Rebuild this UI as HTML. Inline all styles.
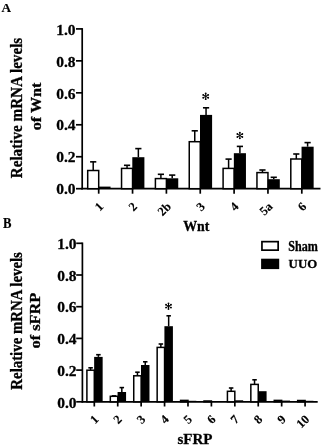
<!DOCTYPE html>
<html><head><meta charset="utf-8"><style>
html,body{margin:0;padding:0;background:#fff;}
body{width:323px;height:448px;overflow:hidden;}
svg{display:block;will-change:transform;}
text{font-family:"Liberation Serif", serif;font-weight:bold;fill:#000;stroke:#000;stroke-width:0.3px;}
</style></head><body>
<svg width="323" height="448" viewBox="0 0 323 448">
<text x="1.5" y="12" font-size="13.2" style="stroke-width:0.15px">A</text>
<text x="0" y="0" font-size="14.4" transform="translate(3.1 227.7) scale(0.88 1)" style="stroke-width:0.2px">B</text>
<line x1="82.2" y1="28.099999999999998" x2="82.2" y2="189.5" stroke="#000" stroke-width="1.7"/>
<line x1="76.0" y1="188.70" x2="82.2" y2="188.70" stroke="#000" stroke-width="1.7"/>
<text x="75.6" y="194.40" text-anchor="end" font-size="15.5">0.0</text>
<line x1="76.0" y1="156.74" x2="82.2" y2="156.74" stroke="#000" stroke-width="1.7"/>
<text x="75.6" y="162.44" text-anchor="end" font-size="15.5">0.2</text>
<line x1="76.0" y1="124.78" x2="82.2" y2="124.78" stroke="#000" stroke-width="1.7"/>
<text x="75.6" y="130.48" text-anchor="end" font-size="15.5">0.4</text>
<line x1="76.0" y1="92.82" x2="82.2" y2="92.82" stroke="#000" stroke-width="1.7"/>
<text x="75.6" y="98.52" text-anchor="end" font-size="15.5">0.6</text>
<line x1="76.0" y1="60.86" x2="82.2" y2="60.86" stroke="#000" stroke-width="1.7"/>
<text x="75.6" y="66.56" text-anchor="end" font-size="15.5">0.8</text>
<line x1="76.0" y1="28.90" x2="82.2" y2="28.90" stroke="#000" stroke-width="1.7"/>
<text x="75.6" y="34.60" text-anchor="end" font-size="15.5">1.0</text>
<line x1="81.4" y1="188.7" x2="320.5" y2="188.7" stroke="#000" stroke-width="1.7"/>
<line x1="93.20" y1="161.85" x2="93.20" y2="170.50" stroke="#000" stroke-width="1.5"/>
<line x1="90.10" y1="161.85" x2="96.30" y2="161.85" stroke="#000" stroke-width="1.6"/>
<rect x="87.70" y="170.50" width="11.00" height="18.20" fill="#fff" stroke="#000" stroke-width="1.5"/>
<rect x="98.45" y="186.60" width="12.10" height="2.10" fill="#000"/>
<line x1="98.70" y1="188.7" x2="98.70" y2="193.7" stroke="#000" stroke-width="1.7"/>
<text x="104.10" y="207.35" text-anchor="end" font-size="12.4" style="stroke-width:0.15px" transform="rotate(-45 104.10 207.35)">1</text>
<line x1="127.05" y1="165.30" x2="127.05" y2="168.40" stroke="#000" stroke-width="1.5"/>
<line x1="123.95" y1="165.30" x2="130.15" y2="165.30" stroke="#000" stroke-width="1.6"/>
<rect x="121.55" y="168.40" width="11.00" height="20.30" fill="#fff" stroke="#000" stroke-width="1.5"/>
<line x1="138.35" y1="148.60" x2="138.35" y2="157.20" stroke="#000" stroke-width="1.5"/>
<line x1="135.25" y1="148.60" x2="141.45" y2="148.60" stroke="#000" stroke-width="1.6"/>
<rect x="132.30" y="157.20" width="12.10" height="31.50" fill="#000"/>
<line x1="132.55" y1="188.7" x2="132.55" y2="193.7" stroke="#000" stroke-width="1.7"/>
<text x="137.95" y="207.35" text-anchor="end" font-size="12.4" style="stroke-width:0.15px" transform="rotate(-45 137.95 207.35)">2</text>
<line x1="160.90" y1="174.30" x2="160.90" y2="178.60" stroke="#000" stroke-width="1.5"/>
<line x1="157.80" y1="174.30" x2="164.00" y2="174.30" stroke="#000" stroke-width="1.6"/>
<rect x="155.40" y="178.60" width="11.00" height="10.10" fill="#fff" stroke="#000" stroke-width="1.5"/>
<line x1="172.20" y1="175.10" x2="172.20" y2="178.30" stroke="#000" stroke-width="1.5"/>
<line x1="169.10" y1="175.10" x2="175.30" y2="175.10" stroke="#000" stroke-width="1.6"/>
<rect x="166.15" y="178.30" width="12.10" height="10.40" fill="#000"/>
<line x1="166.40" y1="188.7" x2="166.40" y2="193.7" stroke="#000" stroke-width="1.7"/>
<text x="171.80" y="207.35" text-anchor="end" font-size="12.4" style="stroke-width:0.15px" transform="rotate(-45 171.80 207.35)">2b</text>
<line x1="194.75" y1="130.80" x2="194.75" y2="141.70" stroke="#000" stroke-width="1.5"/>
<line x1="191.65" y1="130.80" x2="197.85" y2="130.80" stroke="#000" stroke-width="1.6"/>
<rect x="189.25" y="141.70" width="11.00" height="47.00" fill="#fff" stroke="#000" stroke-width="1.5"/>
<line x1="206.05" y1="107.80" x2="206.05" y2="114.90" stroke="#000" stroke-width="1.5"/>
<line x1="202.95" y1="107.80" x2="209.15" y2="107.80" stroke="#000" stroke-width="1.6"/>
<rect x="200.00" y="114.90" width="12.10" height="73.80" fill="#000"/>
<line x1="200.25" y1="188.7" x2="200.25" y2="193.7" stroke="#000" stroke-width="1.7"/>
<text x="205.65" y="207.35" text-anchor="end" font-size="12.4" style="stroke-width:0.15px" transform="rotate(-45 205.65 207.35)">3</text>
<line x1="228.60" y1="159.10" x2="228.60" y2="168.40" stroke="#000" stroke-width="1.5"/>
<line x1="225.50" y1="159.10" x2="231.70" y2="159.10" stroke="#000" stroke-width="1.6"/>
<rect x="223.10" y="168.40" width="11.00" height="20.30" fill="#fff" stroke="#000" stroke-width="1.5"/>
<line x1="239.90" y1="146.40" x2="239.90" y2="153.20" stroke="#000" stroke-width="1.5"/>
<line x1="236.80" y1="146.40" x2="243.00" y2="146.40" stroke="#000" stroke-width="1.6"/>
<rect x="233.85" y="153.20" width="12.10" height="35.50" fill="#000"/>
<line x1="234.10" y1="188.7" x2="234.10" y2="193.7" stroke="#000" stroke-width="1.7"/>
<text x="239.50" y="207.35" text-anchor="end" font-size="12.4" style="stroke-width:0.15px" transform="rotate(-45 239.50 207.35)">4</text>
<line x1="262.45" y1="170.00" x2="262.45" y2="172.60" stroke="#000" stroke-width="1.5"/>
<line x1="259.35" y1="170.00" x2="265.55" y2="170.00" stroke="#000" stroke-width="1.6"/>
<rect x="256.95" y="172.60" width="11.00" height="16.10" fill="#fff" stroke="#000" stroke-width="1.5"/>
<line x1="273.75" y1="177.30" x2="273.75" y2="179.20" stroke="#000" stroke-width="1.5"/>
<line x1="270.65" y1="177.30" x2="276.85" y2="177.30" stroke="#000" stroke-width="1.6"/>
<rect x="267.70" y="179.20" width="12.10" height="9.50" fill="#000"/>
<line x1="267.95" y1="188.7" x2="267.95" y2="193.7" stroke="#000" stroke-width="1.7"/>
<text x="273.35" y="207.35" text-anchor="end" font-size="12.4" style="stroke-width:0.15px" transform="rotate(-45 273.35 207.35)">5a</text>
<line x1="296.30" y1="154.00" x2="296.30" y2="159.00" stroke="#000" stroke-width="1.5"/>
<line x1="293.20" y1="154.00" x2="299.40" y2="154.00" stroke="#000" stroke-width="1.6"/>
<rect x="290.80" y="159.00" width="11.00" height="29.70" fill="#fff" stroke="#000" stroke-width="1.5"/>
<line x1="307.60" y1="142.60" x2="307.60" y2="146.70" stroke="#000" stroke-width="1.5"/>
<line x1="304.50" y1="142.60" x2="310.70" y2="142.60" stroke="#000" stroke-width="1.6"/>
<rect x="301.55" y="146.70" width="12.10" height="42.00" fill="#000"/>
<line x1="301.80" y1="188.7" x2="301.80" y2="193.7" stroke="#000" stroke-width="1.7"/>
<text x="307.20" y="207.35" text-anchor="end" font-size="12.4" style="stroke-width:0.15px" transform="rotate(-45 307.20 207.35)">6</text>
<line x1="82.4" y1="242.5" x2="82.4" y2="402.6" stroke="#000" stroke-width="1.7"/>
<line x1="76.2" y1="401.80" x2="82.4" y2="401.80" stroke="#000" stroke-width="1.7"/>
<text x="76.6" y="407.50" text-anchor="end" font-size="15.5">0.0</text>
<line x1="76.2" y1="370.10" x2="82.4" y2="370.10" stroke="#000" stroke-width="1.7"/>
<text x="76.6" y="375.80" text-anchor="end" font-size="15.5">0.2</text>
<line x1="76.2" y1="338.40" x2="82.4" y2="338.40" stroke="#000" stroke-width="1.7"/>
<text x="76.6" y="344.10" text-anchor="end" font-size="15.5">0.4</text>
<line x1="76.2" y1="306.70" x2="82.4" y2="306.70" stroke="#000" stroke-width="1.7"/>
<text x="76.6" y="312.40" text-anchor="end" font-size="15.5">0.6</text>
<line x1="76.2" y1="275.00" x2="82.4" y2="275.00" stroke="#000" stroke-width="1.7"/>
<text x="76.6" y="280.70" text-anchor="end" font-size="15.5">0.8</text>
<line x1="76.2" y1="243.30" x2="82.4" y2="243.30" stroke="#000" stroke-width="1.7"/>
<text x="76.6" y="249.00" text-anchor="end" font-size="15.5">1.0</text>
<line x1="81.60000000000001" y1="401.8" x2="317.7" y2="401.8" stroke="#000" stroke-width="1.7"/>
<line x1="90.60" y1="367.80" x2="90.60" y2="370.20" stroke="#000" stroke-width="1.5"/>
<line x1="88.35" y1="367.80" x2="92.85" y2="367.80" stroke="#000" stroke-width="1.6"/>
<rect x="86.90" y="370.20" width="7.40" height="31.60" fill="#fff" stroke="#000" stroke-width="1.5"/>
<line x1="98.40" y1="354.70" x2="98.40" y2="356.90" stroke="#000" stroke-width="1.5"/>
<line x1="96.15" y1="354.70" x2="100.65" y2="354.70" stroke="#000" stroke-width="1.6"/>
<rect x="94.15" y="356.90" width="8.50" height="44.90" fill="#000"/>
<line x1="94.30" y1="401.8" x2="94.30" y2="406.5" stroke="#000" stroke-width="1.7"/>
<text x="99.30" y="420.05" text-anchor="end" font-size="12.4" style="stroke-width:0.15px" transform="rotate(-45 99.30 420.05)">1</text>
<line x1="114.02" y1="395.90" x2="114.02" y2="396.30" stroke="#000" stroke-width="1.5"/>
<line x1="111.77" y1="395.90" x2="116.27" y2="395.90" stroke="#000" stroke-width="1.6"/>
<rect x="110.32" y="396.30" width="7.40" height="5.50" fill="#fff" stroke="#000" stroke-width="1.5"/>
<line x1="121.82" y1="387.60" x2="121.82" y2="392.00" stroke="#000" stroke-width="1.5"/>
<line x1="119.57" y1="387.60" x2="124.07" y2="387.60" stroke="#000" stroke-width="1.6"/>
<rect x="117.57" y="392.00" width="8.50" height="9.80" fill="#000"/>
<line x1="117.72" y1="401.8" x2="117.72" y2="406.5" stroke="#000" stroke-width="1.7"/>
<text x="122.72" y="420.05" text-anchor="end" font-size="12.4" style="stroke-width:0.15px" transform="rotate(-45 122.72 420.05)">2</text>
<line x1="137.44" y1="372.20" x2="137.44" y2="375.80" stroke="#000" stroke-width="1.5"/>
<line x1="135.19" y1="372.20" x2="139.69" y2="372.20" stroke="#000" stroke-width="1.6"/>
<rect x="133.74" y="375.80" width="7.40" height="26.00" fill="#fff" stroke="#000" stroke-width="1.5"/>
<line x1="145.24" y1="361.80" x2="145.24" y2="365.00" stroke="#000" stroke-width="1.5"/>
<line x1="142.99" y1="361.80" x2="147.49" y2="361.80" stroke="#000" stroke-width="1.6"/>
<rect x="140.99" y="365.00" width="8.50" height="36.80" fill="#000"/>
<line x1="141.14" y1="401.8" x2="141.14" y2="406.5" stroke="#000" stroke-width="1.7"/>
<text x="146.14" y="420.05" text-anchor="end" font-size="12.4" style="stroke-width:0.15px" transform="rotate(-45 146.14 420.05)">3</text>
<line x1="160.86" y1="344.00" x2="160.86" y2="347.40" stroke="#000" stroke-width="1.5"/>
<line x1="158.61" y1="344.00" x2="163.11" y2="344.00" stroke="#000" stroke-width="1.6"/>
<rect x="157.16" y="347.40" width="7.40" height="54.40" fill="#fff" stroke="#000" stroke-width="1.5"/>
<line x1="168.66" y1="315.80" x2="168.66" y2="326.20" stroke="#000" stroke-width="1.5"/>
<line x1="166.41" y1="315.80" x2="170.91" y2="315.80" stroke="#000" stroke-width="1.6"/>
<rect x="164.41" y="326.20" width="8.50" height="75.60" fill="#000"/>
<line x1="164.56" y1="401.8" x2="164.56" y2="406.5" stroke="#000" stroke-width="1.7"/>
<text x="169.56" y="420.05" text-anchor="end" font-size="12.4" style="stroke-width:0.15px" transform="rotate(-45 169.56 420.05)">4</text>
<rect x="180.58" y="400.40" width="7.40" height="1.40" fill="#fff" stroke="#000" stroke-width="1.5"/>
<rect x="187.83" y="400.80" width="8.50" height="1.00" fill="#000"/>
<line x1="187.98" y1="401.8" x2="187.98" y2="406.5" stroke="#000" stroke-width="1.7"/>
<text x="192.98" y="420.05" text-anchor="end" font-size="12.4" style="stroke-width:0.15px" transform="rotate(-45 192.98 420.05)">5</text>
<rect x="204.00" y="401.00" width="7.40" height="0.80" fill="#fff" stroke="#000" stroke-width="1.5"/>
<rect x="211.25" y="401.00" width="8.50" height="0.80" fill="#000"/>
<line x1="211.40" y1="401.8" x2="211.40" y2="406.5" stroke="#000" stroke-width="1.7"/>
<text x="216.40" y="420.05" text-anchor="end" font-size="12.4" style="stroke-width:0.15px" transform="rotate(-45 216.40 420.05)">6</text>
<line x1="231.12" y1="388.00" x2="231.12" y2="391.30" stroke="#000" stroke-width="1.5"/>
<line x1="228.87" y1="388.00" x2="233.37" y2="388.00" stroke="#000" stroke-width="1.6"/>
<rect x="227.42" y="391.30" width="7.40" height="10.50" fill="#fff" stroke="#000" stroke-width="1.5"/>
<rect x="234.67" y="400.30" width="8.50" height="1.50" fill="#000"/>
<line x1="234.82" y1="401.8" x2="234.82" y2="406.5" stroke="#000" stroke-width="1.7"/>
<text x="239.82" y="420.05" text-anchor="end" font-size="12.4" style="stroke-width:0.15px" transform="rotate(-45 239.82 420.05)">7</text>
<line x1="254.54" y1="379.80" x2="254.54" y2="384.40" stroke="#000" stroke-width="1.5"/>
<line x1="252.29" y1="379.80" x2="256.79" y2="379.80" stroke="#000" stroke-width="1.6"/>
<rect x="250.84" y="384.40" width="7.40" height="17.40" fill="#fff" stroke="#000" stroke-width="1.5"/>
<rect x="258.09" y="391.20" width="8.50" height="10.60" fill="#000"/>
<line x1="258.24" y1="401.8" x2="258.24" y2="406.5" stroke="#000" stroke-width="1.7"/>
<text x="263.24" y="420.05" text-anchor="end" font-size="12.4" style="stroke-width:0.15px" transform="rotate(-45 263.24 420.05)">8</text>
<rect x="274.26" y="400.40" width="7.40" height="1.40" fill="#fff" stroke="#000" stroke-width="1.5"/>
<rect x="281.51" y="400.60" width="8.50" height="1.20" fill="#000"/>
<line x1="281.66" y1="401.8" x2="281.66" y2="406.5" stroke="#000" stroke-width="1.7"/>
<text x="286.66" y="420.05" text-anchor="end" font-size="12.4" style="stroke-width:0.15px" transform="rotate(-45 286.66 420.05)">9</text>
<rect x="297.68" y="400.50" width="7.40" height="1.30" fill="#fff" stroke="#000" stroke-width="1.5"/>
<rect x="304.93" y="400.80" width="8.50" height="1.00" fill="#000"/>
<line x1="305.08" y1="401.8" x2="305.08" y2="406.5" stroke="#000" stroke-width="1.7"/>
<text x="310.08" y="420.05" text-anchor="end" font-size="12.4" style="stroke-width:0.15px" transform="rotate(-45 310.08 420.05)">10</text>
<text x="0" y="0" font-size="16" text-anchor="middle" textLength="140.5" lengthAdjust="spacingAndGlyphs" transform="translate(21.6 108) rotate(-90)">Relative mRNA levels</text>
<text x="0" y="0" font-size="15" text-anchor="middle" textLength="47.7" lengthAdjust="spacingAndGlyphs" transform="translate(41.2 106.4) rotate(-90)">of Wnt</text>
<text x="0" y="0" font-size="16" text-anchor="middle" textLength="137.5" lengthAdjust="spacingAndGlyphs" transform="translate(21.6 320.9) rotate(-90)">Relative mRNA levels</text>
<text x="0" y="0" font-size="15" text-anchor="middle" textLength="55.9" lengthAdjust="spacingAndGlyphs" transform="translate(40.4 320.6) rotate(-90)">of sFRP</text>
<text x="183.2" y="231.2" font-size="15" textLength="26.2" lengthAdjust="spacingAndGlyphs">Wnt</text>
<text x="195" y="444.3" font-size="15" text-anchor="middle">sFRP</text>
<line x1="205.70" y1="96.30" x2="205.70" y2="93.45" stroke="#000" stroke-width="1.0"/><circle cx="205.70" cy="93.45" r="0.95" fill="#000"/><line x1="205.70" y1="96.30" x2="208.17" y2="94.88" stroke="#000" stroke-width="1.0"/><circle cx="208.17" cy="94.88" r="0.95" fill="#000"/><line x1="205.70" y1="96.30" x2="208.17" y2="97.72" stroke="#000" stroke-width="1.0"/><circle cx="208.17" cy="97.72" r="0.95" fill="#000"/><line x1="205.70" y1="96.30" x2="203.23" y2="94.88" stroke="#000" stroke-width="1.0"/><circle cx="203.23" cy="94.88" r="0.95" fill="#000"/><line x1="205.70" y1="96.30" x2="203.23" y2="97.72" stroke="#000" stroke-width="1.0"/><circle cx="203.23" cy="97.72" r="0.95" fill="#000"/><line x1="205.70" y1="96.30" x2="205.70" y2="99.15" stroke="#000" stroke-width="1.0"/><circle cx="205.70" cy="99.15" r="0.95" fill="#000"/>
<line x1="239.85" y1="135.50" x2="239.85" y2="132.65" stroke="#000" stroke-width="1.0"/><circle cx="239.85" cy="132.65" r="0.95" fill="#000"/><line x1="239.85" y1="135.50" x2="242.32" y2="134.07" stroke="#000" stroke-width="1.0"/><circle cx="242.32" cy="134.07" r="0.95" fill="#000"/><line x1="239.85" y1="135.50" x2="242.32" y2="136.93" stroke="#000" stroke-width="1.0"/><circle cx="242.32" cy="136.93" r="0.95" fill="#000"/><line x1="239.85" y1="135.50" x2="237.38" y2="134.07" stroke="#000" stroke-width="1.0"/><circle cx="237.38" cy="134.07" r="0.95" fill="#000"/><line x1="239.85" y1="135.50" x2="237.38" y2="136.93" stroke="#000" stroke-width="1.0"/><circle cx="237.38" cy="136.93" r="0.95" fill="#000"/><line x1="239.85" y1="135.50" x2="239.85" y2="138.35" stroke="#000" stroke-width="1.0"/><circle cx="239.85" cy="138.35" r="0.95" fill="#000"/>
<line x1="168.50" y1="306.20" x2="168.50" y2="303.35" stroke="#000" stroke-width="1.0"/><circle cx="168.50" cy="303.35" r="0.95" fill="#000"/><line x1="168.50" y1="306.20" x2="170.97" y2="304.77" stroke="#000" stroke-width="1.0"/><circle cx="170.97" cy="304.77" r="0.95" fill="#000"/><line x1="168.50" y1="306.20" x2="170.97" y2="307.62" stroke="#000" stroke-width="1.0"/><circle cx="170.97" cy="307.62" r="0.95" fill="#000"/><line x1="168.50" y1="306.20" x2="166.03" y2="304.77" stroke="#000" stroke-width="1.0"/><circle cx="166.03" cy="304.77" r="0.95" fill="#000"/><line x1="168.50" y1="306.20" x2="166.03" y2="307.62" stroke="#000" stroke-width="1.0"/><circle cx="166.03" cy="307.62" r="0.95" fill="#000"/><line x1="168.50" y1="306.20" x2="168.50" y2="309.05" stroke="#000" stroke-width="1.0"/><circle cx="168.50" cy="309.05" r="0.95" fill="#000"/>
<rect x="261.95" y="241.65" width="16.2" height="8.5" fill="#fff" stroke="#000" stroke-width="1.7"/>
<rect x="261.1" y="258.7" width="18.1" height="10.4" fill="#000"/>
<text x="288.2" y="251" font-size="13.8" textLength="29.6" lengthAdjust="spacingAndGlyphs">Sham</text>
<text x="288.6" y="268.2" font-size="13.2" textLength="28.6" lengthAdjust="spacingAndGlyphs">UUO</text>
</svg>
</body></html>
